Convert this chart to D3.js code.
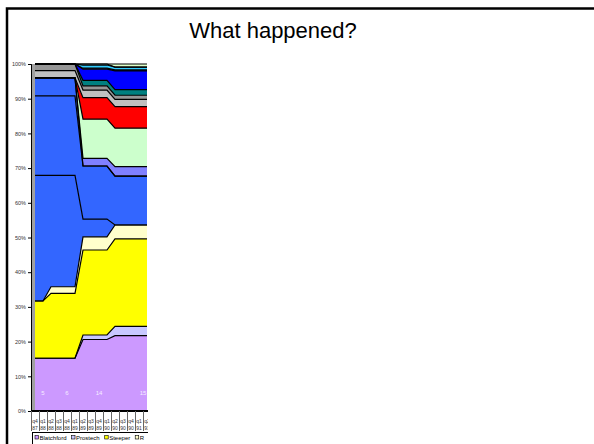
<!DOCTYPE html>
<html><head><meta charset="utf-8">
<script src="https://cdn.jsdelivr.net/npm/d3@7"></script>
<style>body{margin:0;background:#fff}svg{display:block}text{font-family:Arial,"Liberation Sans",sans-serif}</style>
</head><body><svg id="c" width="594" height="444"></svg>
<script>
const categories = ["q4 87","q1 88","q2 88","q3 88","q4 88","q1 89","q2 89","q3 89","q4 89","q1 90","q2 90","q3 90","q4 90","q1 91","q2 91"];
const seriesNames = ["Blatchford","Prostech","Steeper","R","S5","S6","S7","S8","S9","S10","S11","S12","S13","S14","S15","S16","S17","S18"];
const seriesColors = ["#CC99FF","#C8C8FF","#FFFF00","#FFFFCC","#3366FF","#3366FF","#3366FF","#8080FF","#CCFFCC","#FF0000","#C0C0C0","#969696","#008080","#0000FF","#000080","#33CCFF","#CCFFFF","#DDFFCC"];
const blatchford = [15.2,15.2,15.2,15.2,15.2,15.2,20.6,20.6,20.6,20.6,21.7,21.7,21.7,21.7,21.7];
const prostech   = [0,0,0,0,0,0,1.3,1.3,1.3,1.3,2.7,2.7,2.7,2.7,2.7];
const steeper    = [16.5,16.5,18.7,18.7,18.7,18.7,24.5,24.5,24.5,24.5,25.2,25.2,25.2,25.2,25.2];
const rSeries    = [0,0,1.9,1.9,1.9,1.9,3.8,3.8,3.8,3.8,4.0,4.0,4.0,4.0,4.0];
const s5  = [36.2,36.2,32.1,32.1,32.1,32.1,5.1,5.1,5.1,5.1,0,0,0,0,0];
const s6  = [22.9,22.9,22.9,22.9,22.9,22.9,15.3,15.3,15.3,15.3,14.1,14.1,14.1,14.1,14.1];
const s7  = [5.2,5.2,5.2,5.2,5.2,5.2,0,0,0,0,0,0,0,0,0];
const s8  = [0,0,0,0,0,0,2.2,2.2,2.2,2.2,2.7,2.7,2.7,2.7,2.7];
const s9  = [0,0,0,0,0,0,11.3,11.3,11.3,11.3,11.1,11.1,11.1,11.1,11.1];
const s10 = [0,0,0,0,0,0,6.2,6.2,6.2,6.2,6.2,6.2,6.2,6.2,6.2];
const s11 = [2.1,2.1,2.1,2.1,2.1,2.1,2.2,2.2,2.2,2.2,2.1,2.1,2.1,2.1,2.1];
const s12 = [1.9,1.9,1.9,1.9,1.9,1.9,1.2,1.2,1.2,1.2,1.2,1.2,1.2,1.2,1.2];
const s13 = [0,0,0,0,0,0,1.6,1.6,1.6,1.6,1.6,1.6,1.6,1.6,1.6];
const s14 = [0,0,0,0,0,0,3.2,3.2,3.2,3.2,5.4,5.4,5.4,5.4,5.4];
const s15 = [0,0,0,0,0,0,0.3,0.3,0.3,0.3,0.3,0.3,0.3,0.3,0.3];
const s16 = [0,0,0,0,0,0,0.9,0.9,0.9,0.9,0.8,0.8,0.8,0.8,0.8];
const s17 = [0,0,0,0,0,0,0.3,0.3,0.3,0.3,0,0,0,0,0];
const s18 = [0,0,0,0,0,0,0,0,0,0,0.9,0.9,0.9,0.9,0.9];
const seriesValues = [blatchford,prostech,steeper,rSeries,s5,s6,s7,s8,s9,s10,s11,s12,s13,s14,s15,s16,s17,s18];
const yTicks = [0,0.1,0.2,0.3,0.4,0.5,0.6,0.7,0.8,0.9,1];
const dataLabels = ["5","6","14","15"];
const dataLabelPos = [1,4,8,13.5];
const legendCount = 4;

const svg = d3.select("#c");
const rows = categories.map((c,i)=>{const o={cat:c};seriesNames.forEach((n,k)=>o[n]=seriesValues[k][i]);return o;});
const stack = d3.stack().keys(seriesNames).offset(d3.stackOffsetExpand)(rows);

const xBand = d3.scaleBand().domain(categories).range([31,151]);
const xi = d3.scaleLinear().domain([0,categories.length-1]).range([xBand(categories[0])+xBand.bandwidth()/2, xBand(categories[categories.length-1])+xBand.bandwidth()/2]);
const y = d3.scaleLinear().domain([0,1]).range([411,64]);

// frame and title
svg.append("path").attr("d","M7,444 V8.5 H600").attr("fill","none").attr("stroke","#000").attr("stroke-width",2.5);
svg.append("text").attr("x",273).attr("y",38).attr("text-anchor","middle").attr("font-size",22).attr("fill","#000").text("What happened?");

svg.append("defs").append("clipPath").attr("id","clip").append("rect").attr("x",0).attr("y",0).attr("width",148).attr("height",444);
const g = svg.append("g").attr("clip-path","url(#clip)");

// wall
g.append("rect").attr("x",31).attr("y",64).attr("width",4).attr("height",347).attr("fill","#a0a0a0");
g.append("line").attr("x1",31.5).attr("x2",31.5).attr("y1",64).attr("y2",411).attr("stroke","#555");

const area = d3.area().x((d,i)=>xi(i)).y0(d=>y(d[0])).y1(d=>y(d[1]));
const line = d3.line().x((d,i)=>xi(i)).y(d=>y(d[1]));
g.selectAll("path.a").data(stack).join("path").attr("class","a").attr("d",area).attr("fill",(d,i)=>seriesColors[i]);
g.selectAll("path.l").data(stack).join("path").attr("class","l").attr("d",line).attr("fill","none").attr("stroke","#000").attr("stroke-width",1.2);

// data labels
g.selectAll("text.dl").data(dataLabels).join("text").attr("class","dl")
  .attr("x",(d,i)=>xi(dataLabelPos[i])).attr("y",395).attr("text-anchor","middle")
  .attr("font-size",6).attr("fill","#f6eeff").text(d=>d);

// y axis
const ya = g.append("g").attr("transform","translate(31,0)").call(d3.axisLeft(y).tickValues(yTicks).tickFormat(d3.format(".0%")).tickSize(3).tickPadding(2));
ya.select(".domain").attr("stroke","#000");
ya.selectAll("text").attr("font-size",5.5).attr("fill","#333").attr("font-family","Arial, Liberation Sans, sans-serif");

// x axis
g.append("line").attr("x1",31).attr("x2",151).attr("y1",411).attr("y2",411).attr("stroke","#000").attr("stroke-width",2);
const bounds = categories.map(c=>xBand(c)).concat([xBand.range()[1]]);
g.selectAll("line.sep").data(bounds).join("line").attr("class","sep")
  .attr("x1",d=>d+0.5).attr("x2",d=>d+0.5).attr("y1",411).attr("y2",431).attr("stroke","#666");
const xl = g.selectAll("g.xl").data(categories).join("g").attr("class","xl")
  .attr("transform",c=>`translate(${xBand(c)+xBand.bandwidth()/2},0)`);
xl.append("text").attr("y",422.5).attr("text-anchor","middle").attr("font-size",5).attr("fill","#333").text(c=>c.split(" ")[0]);
xl.append("text").attr("y",429.5).attr("text-anchor","middle").attr("font-size",5).attr("fill","#333").text(c=>c.split(" ")[1]);

// legend
g.append("rect").attr("x",32.5).attr("y",432.5).attr("width",300).attr("height",30).attr("fill","#fff").attr("stroke","#000").attr("stroke-width",1);
let lx = 35;
for(let k=0;k<legendCount;k++){
  g.append("rect").attr("x",lx).attr("y",435.5).attr("width",3.5).attr("height",3.5).attr("fill",seriesColors[k]).attr("stroke","#000").attr("stroke-width",0.6);
  const t = g.append("text").attr("x",lx+4.5).attr("y",439.7).attr("font-size",6).attr("fill","#000").text(seriesNames[k]);
  lx += 4.5 + t.node().getComputedTextLength() + 5;
}
</script></body></html>
